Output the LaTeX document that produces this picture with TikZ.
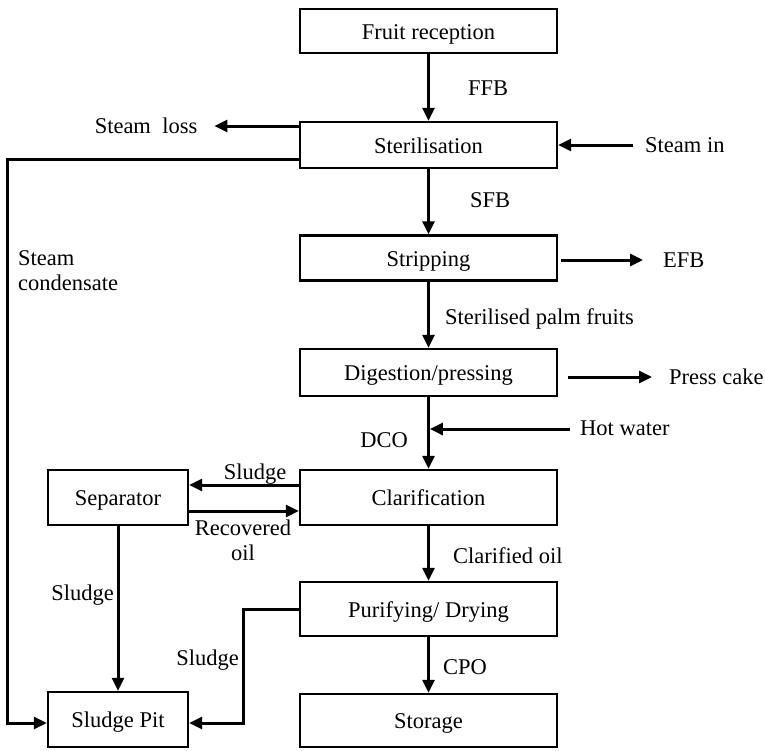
\documentclass[tikz,border=0pt]{standalone}
\usepackage{fontspec}
\setmainfont{Liberation Serif}
\usetikzlibrary{arrows.meta,calc}
\begin{document}
\begin{tikzpicture}[x=1pt,y=-1pt,
 box/.style={draw, line width=2.4pt, inner sep=0pt, text height=18pt, text depth=2pt, font=\fontsize{22.5}{24}\selectfont},
 mainbox/.style={box, minimum width=257pt},
 sidebox/.style={box, minimum width=140pt},
 lbl/.style={inner sep=0pt, font=\fontsize{22.5}{25}\selectfont},
 lbs/.style={lbl, text height=15pt, text depth=0pt},
 flow/.style={line width=3pt, -{Triangle[length=13pt,width=12pt]}}]
\useasboundingbox (0,0) rectangle (765,750);
% boxes
\node[mainbox, minimum height=44pt] (fruit) at (428.5,31) {Fruit reception};
\node[mainbox, minimum height=46pt] (ster) at (428.5,145) {Sterilisation};
\node[mainbox, minimum height=45pt] (strip) at (428.5,258) {Stripping};
\node[mainbox, minimum height=47pt] (dig) at (428.5,372.5) {Digestion/pressing};
\node[mainbox, minimum height=55pt] (clar) at (428.5,497.5) {Clarification};
\node[mainbox, minimum height=54pt] (pur) at (428.5,609) {Purifying/ Drying};
\node[mainbox, minimum height=53pt] (stor) at (428.5,720.5) {Storage};
\node[sidebox, minimum height=55pt] (sep) at (118,497.5) {Separator};
\node[sidebox, minimum height=55pt] (pit) at (118,719.5) {Sludge Pit};
% labels
\node[lbs, anchor=west] (ffb) at (468,88) {FFB};
\node[lbs, anchor=west] (sfb) at (470,200) {SFB};
\node[lbs, anchor=west] (spf) at (445,317) {Sterilised palm fruits};
\node[lbs, anchor=east] (dco) at (408,440) {DCO};
\node[lbs, anchor=west] (cloil) at (453,556) {Clarified oil};
\node[lbs, anchor=west] (cpo) at (443,667) {CPO};
\node[lbs] (sloss) at (146,126) {Steam\ \ loss};
\node[lbs, anchor=west] (sin) at (645,145) {Steam in};
\node[lbs, anchor=west] (efb) at (663,260) {EFB};
\node[lbs, anchor=west] (pcake) at (669,377) {Press cake};
\node[lbs, anchor=west] (hwat) at (580,428) {Hot water};
\node[lbl, anchor=north west, align=left] (scond) at (18,250) {Steam\\condensate};
\node[lbs] (sl1) at (255,472) {Sludge};
\node[lbl, align=center, anchor=north] (roil) at (243,520) {Recovered\\oil};
\node[lbs, anchor=east] (sl2) at (114,593) {Sludge};
\node[lbs, anchor=east] (sl3) at (239,658) {Sludge};
% main flow
\draw[flow] (fruit) -- (ster);
\draw[flow] (ster) -- (strip);
\draw[flow] (strip) -- (dig);
\draw[flow] (dig) -- (clar);
\draw[flow] (clar) -- (pur);
\draw[flow] (pur) -- (stor);
% side flows
\draw[flow] ([yshift=19pt]ster.west) -- ([xshift=17pt]sloss.east);
\draw[flow] ([xshift=-12pt]sin.west) -- (ster.east);
\draw[flow] ($(strip.east)+(3,2)$) -- ($(efb.west)+(-20,0)$);
\draw[flow] ($(dig.east)+(10,4.5)$) -- ($(pcake.west)+(-17,0)$);
\coordinate (hw) at (570,429);
\draw[flow, shorten >=1.4pt] (hw) -- (hw -| dig.south);
\coordinate (sc) at (7,0);
\draw[flow] ([yshift=-14pt]ster.west) -| ([yshift=-3.5pt]sc |- pit.west) -- ([yshift=-3.5pt]pit.west);
\draw[flow] ([yshift=12.5pt]clar.west) -- ([yshift=12.5pt]sep.east);
\draw[flow] ([yshift=-13.5pt]sep.east) -- ([yshift=-13.5pt]clar.west);
\draw[flow] (sep) -- (pit);
\coordinate (ps) at (243,0);
\draw[flow] (pur.west) -| ([yshift=-3.5pt]ps |- pit.east) -- ([yshift=-3.5pt]pit.east);
\end{tikzpicture}
\end{document}
